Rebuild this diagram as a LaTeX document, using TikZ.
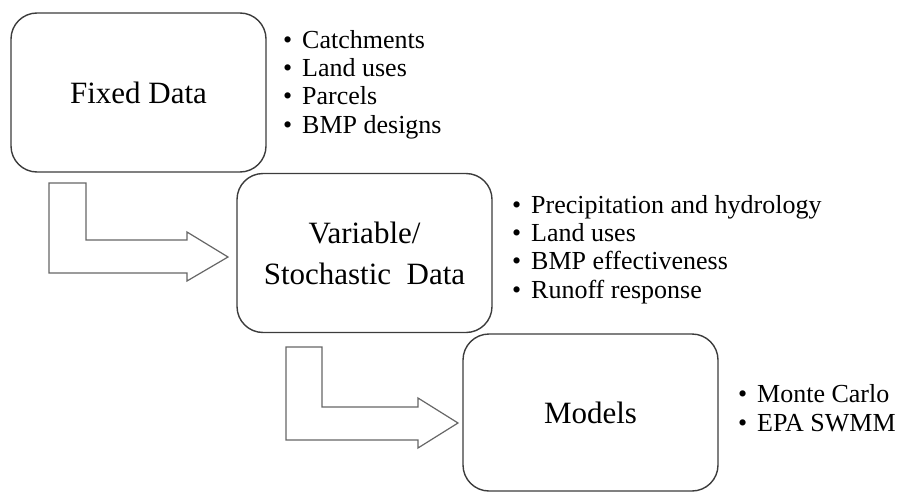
\documentclass[tikz,border=0pt]{standalone}
\usepackage{fontspec}
\setmainfont{Liberation Serif}
\definecolor{boxgray}{HTML}{3C3C3C}
\definecolor{arrowgray}{HTML}{666666}
\newcommand{\itembullet}{\makebox[19pt][l]{\textbullet}}
\begin{document}
\begin{tikzpicture}[x=1pt,y=-1pt,
  stage/.style={draw=boxgray, line width=1.4pt, rounded corners=26pt,
    minimum width=255pt, minimum height=159pt, inner sep=0pt,
    align=center, font=\fontsize{31}{41}\selectfont, text=black},
  % lists are placed by the baseline of their last line
  items/.style={anchor=base west, inner sep=0pt, align=left,
    font=\fontsize{26}{28.3}\selectfont, text=black},
  blockarrow/.style={draw=arrowgray, line width=1.2pt, fill=white, line join=miter}]
\useasboundingbox (0,0) rectangle (901,492);

% the three stages
\node[stage] (fixed) at (138.5,92.5) {Fixed Data};
\node[stage] (variable) at (364.5,253) {Variable/\\Stochastic\ \ Data};
\node[stage, minimum height=157pt] (models) at (590.5,412.5) {Models};

% what each stage holds
\node[items] (fixedlist) at (283,133)
  {\itembullet Catchments\\\itembullet Land uses\\\itembullet Parcels\\\itembullet BMP designs};
\node[items] (variablelist) at (512,298)
  {\itembullet Precipitation and hydrology\\\itembullet Land uses\\\itembullet BMP effectiveness\\\itembullet Runoff response};
\node[items] (modelslist) at (738,431)
  {\itembullet Monte Carlo\\\itembullet EPA SWMM};

% bent block arrows from one stage to the next
\coordinate (tipA) at (228,257);
\coordinate (tipB) at (458,423);
\draw[blockarrow] (49,183) -- (86,183) -- (86,240) -- (187,240) -- (187,232)
  -- (tipA) -- (187,281) -- (187,273) -- (49,273) -- cycle;
\draw[blockarrow] (286,347) -- (322,347) -- (322,407) -- (418,407) -- (418,398)
  -- (tipB) -- (418,448) -- (418,440) -- (286,440) -- cycle;
\end{tikzpicture}
\end{document}
